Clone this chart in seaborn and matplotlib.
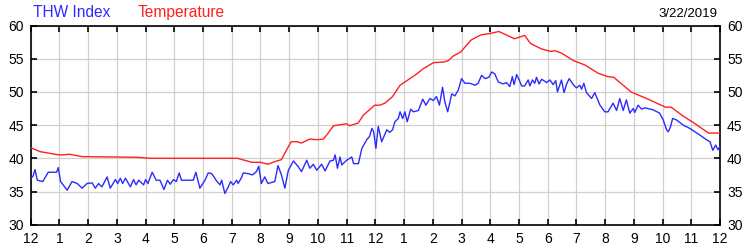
import matplotlib
matplotlib.use("Agg")
import matplotlib.pyplot as plt
import seaborn as sns
import pandas as pd

# ---- data ----
thw_hours = [0.0, 0.08, 0.15, 0.23, 0.42, 0.61, 0.90, 0.96, 1.04, 1.27, 1.44, 1.62, 1.79, 1.96,
             2.14, 2.25, 2.36, 2.48, 2.66, 2.77, 2.95, 3.03, 3.12, 3.20, 3.30, 3.47, 3.58, 3.67,
             3.76, 3.93, 4.00, 4.08, 4.23, 4.37, 4.50, 4.64, 4.76, 4.86, 4.97, 5.07, 5.17, 5.25,
             5.66, 5.75, 5.89, 6.07, 6.18, 6.30, 6.38, 6.47, 6.59, 6.65, 6.76, 6.88, 6.96, 7.05,
             7.17, 7.22, 7.34, 7.40, 7.57, 7.72, 7.86, 7.94, 8.03, 8.15, 8.26, 8.50, 8.61, 8.73,
             8.85, 8.97, 9.15, 9.32, 9.43, 9.61, 9.72, 9.84, 9.96, 10.13, 10.25, 10.42, 10.54,
             10.60, 10.68, 10.77, 10.83, 11.00, 11.18, 11.24, 11.41, 11.53, 11.70, 11.80, 11.88,
             11.94, 12.02, 12.10, 12.22, 12.40, 12.50, 12.60, 12.68, 12.80, 12.86, 12.95, 13.03,
             13.11, 13.23, 13.32, 13.50, 13.65, 13.76, 13.90, 14.02, 14.13, 14.23, 14.34, 14.42,
             14.52, 14.66, 14.77, 14.89, 15.00, 15.12, 15.29, 15.47, 15.58, 15.70, 15.82, 15.95,
             16.05, 16.16, 16.28, 16.45, 16.57, 16.68, 16.77, 16.83, 16.92, 17.01, 17.09, 17.20,
             17.32, 17.38, 17.47, 17.55, 17.61, 17.70, 17.79, 17.90, 17.96, 18.08, 18.19, 18.28,
             18.34, 18.48, 18.57, 18.66, 18.75, 18.89, 19.00, 19.12, 19.18, 19.26, 19.35, 19.53,
             19.64, 19.82, 19.99, 20.10, 20.28, 20.40, 20.51, 20.63, 20.74, 20.86, 20.98, 21.03,
             21.15, 21.27, 21.38, 21.67, 21.90, 22.02, 22.14, 22.20, 22.28, 22.35, 22.48, 22.72,
             22.95, 23.30, 23.53, 23.65, 23.75, 23.85, 23.93, 24.00]
thw_values = [37.0, 37.3, 38.3, 36.7, 36.5, 37.9, 37.9, 38.6, 36.5, 35.2, 36.5, 36.2, 35.5, 36.2,
              36.3, 35.5, 36.2, 35.7, 37.2, 35.5, 36.8, 36.2, 37.0, 36.2, 37.0, 35.7, 36.8, 36.0,
              36.7, 36.0, 36.8, 36.2, 37.9, 36.7, 36.7, 35.3, 36.7, 36.1, 36.8, 36.5, 37.8, 36.7,
              36.7, 37.9, 35.5, 36.7, 37.8, 37.7, 37.2, 36.6, 36.0, 36.7, 34.7, 35.7, 36.5, 36.0,
              36.7, 36.2, 37.1, 37.8, 37.7, 37.5, 38.0, 38.8, 36.2, 37.2, 36.2, 36.5, 38.9, 37.5,
              35.5, 38.2, 39.6, 38.7, 38.0, 39.7, 38.5, 39.1, 38.2, 39.1, 38.1, 39.6, 39.7,
              40.5, 38.5, 40.2, 39.0, 39.7, 40.2, 39.2, 39.2, 41.5, 42.8, 43.3, 44.5,
              44.0, 41.5, 44.8, 42.5, 44.3, 43.9, 44.3, 45.5, 46.0, 47.0, 46.0, 47.0,
              45.5, 47.4, 47.0, 47.2, 48.9, 48.0, 49.0, 48.7, 49.3, 48.0, 50.7, 48.5,
              47.0, 49.7, 49.4, 50.3, 52.0, 51.3, 51.3, 51.0, 51.3, 52.5, 52.0, 52.2,
              53.0, 52.7, 51.5, 51.2, 51.4, 50.8, 52.3, 51.1, 52.6, 51.8, 50.9, 50.9,
              51.8, 50.9, 51.8, 51.3, 52.2, 51.2, 51.9, 51.6, 51.4, 51.8, 51.1, 51.7,
              50.0, 51.8, 49.9, 51.2, 52.0, 51.1, 50.6, 51.0, 50.4, 51.3, 49.9, 49.0,
              49.9, 48.0, 47.0, 47.0, 48.3, 47.2, 49.0, 47.2, 48.8, 46.8, 47.5, 46.9,
              48.0, 47.4, 47.6, 47.3, 46.8, 45.8, 44.3, 44.0, 44.8, 46.0, 45.8, 45.0,
              44.5, 43.5, 42.8, 42.5, 41.2, 42.0, 41.3, 41.8]

temp_hours = [0, 0.33, 0.66, 1.0, 1.36, 1.8, 2.9, 3.7, 4.2, 7.2, 7.7, 8.0, 8.26, 8.5, 8.73, 8.9,
              9.07, 9.26, 9.43, 9.72, 9.96, 10.19, 10.36, 10.54, 11.0, 11.1, 11.4, 11.58, 11.98,
              12.16, 12.33, 12.6, 12.86, 13.03, 13.44, 13.67, 14.02, 14.37, 14.54, 14.71, 14.97,
              15.33, 15.68, 16.0, 16.3, 16.6, 16.84, 17.2, 17.4, 17.77, 18.1, 18.26, 18.5, 18.9,
              19.3, 19.76, 20.1, 20.3, 20.9, 21.5, 22.1, 22.3, 22.67, 23.1, 23.6, 24.0]
temp_values = [41.6, 41.0, 40.75, 40.5, 40.6, 40.25, 40.2, 40.15, 40.0, 40.0, 39.4, 39.4, 39.1,
               39.5, 39.8, 41.2, 42.5, 42.5, 42.3, 42.9, 42.8, 42.9, 43.8, 44.9, 45.2, 44.9, 45.3,
               46.5, 48.0, 48.0, 48.3, 49.3, 51.0, 51.5, 52.7, 53.5, 54.4, 54.5, 54.7, 55.4, 56.0,
               57.8, 58.6, 58.8, 59.1, 58.5, 58.0, 58.5, 57.3, 56.5, 56.1, 56.2, 55.8, 54.7,
               54.05, 52.8, 52.3, 52.2, 50.0, 48.9, 47.7, 47.7, 46.5, 45.3, 43.8, 43.8]

x_tick_labels = ["12", "1", "2", "3", "4", "5", "6", "7", "8", "9", "10", "11",
                 "12", "1", "2", "3", "4", "5", "6", "7", "8", "9", "10", "11", "12"]
y_ticks = [30, 35, 40, 45, 50, 55, 60]
series_names = ["THW Index", "Temperature"]
date_label = "3/22/2019"

# ---- styling ----
sns.set_style("white")
plt.rcParams["font.family"] = ["Liberation Sans", "DejaVu Sans"]

BLUE = "#2b2bff"
RED = "#ff2020"

fig = plt.figure(figsize=(7.5, 2.5), dpi=100)
ax = fig.add_axes([30.7 / 750, (250 - 224.7) / 250, (720 - 30.7) / 750, (224.7 - 25.5) / 250])

df_thw = pd.DataFrame({"hour": thw_hours, "value": thw_values})
df_temp = pd.DataFrame({"hour": temp_hours, "value": temp_values})

sns.lineplot(data=df_temp, x="hour", y="value", ax=ax, color=RED, linewidth=1.0, zorder=3)
sns.lineplot(data=df_thw, x="hour", y="value", ax=ax, color=BLUE, linewidth=1.0, zorder=4)

ax.set_xlim(0, 24)
ax.set_ylim(30, 60)
ax.set_xticks(range(25))
ax.set_xticklabels(x_tick_labels)
ax.set_yticks(y_ticks)
ax.set_xlabel("")
ax.set_ylabel("")

ax.grid(True, color="#d0d0d0", linewidth=0.9)
ax.set_axisbelow(True)
for s in ax.spines.values():
    s.set_visible(True)
    s.set_color("black")
    s.set_linewidth(1.2)

ax.tick_params(axis="both", which="both", direction="in", length=4.5, width=1.2,
               color="black", labelsize=10, labelcolor="black")
ax.tick_params(axis="x", top=True, bottom=True, pad=5)
ax.tick_params(axis="y", left=True, right=True, labelleft=True, labelright=True, pad=5)

fig.text(33 / 750, (250 - 17.3) / 250, series_names[0], color=BLUE, fontsize=11.2,
         ha="left", va="baseline")
fig.text(137.5 / 750, (250 - 17.3) / 250, series_names[1], color=RED, fontsize=11.2,
         ha="left", va="baseline")
fig.text(717 / 750, (250 - 17.3) / 250, date_label, color="black", fontsize=9.5,
         ha="right", va="baseline")

fig.savefig("out.png", dpi=100, facecolor="white")
